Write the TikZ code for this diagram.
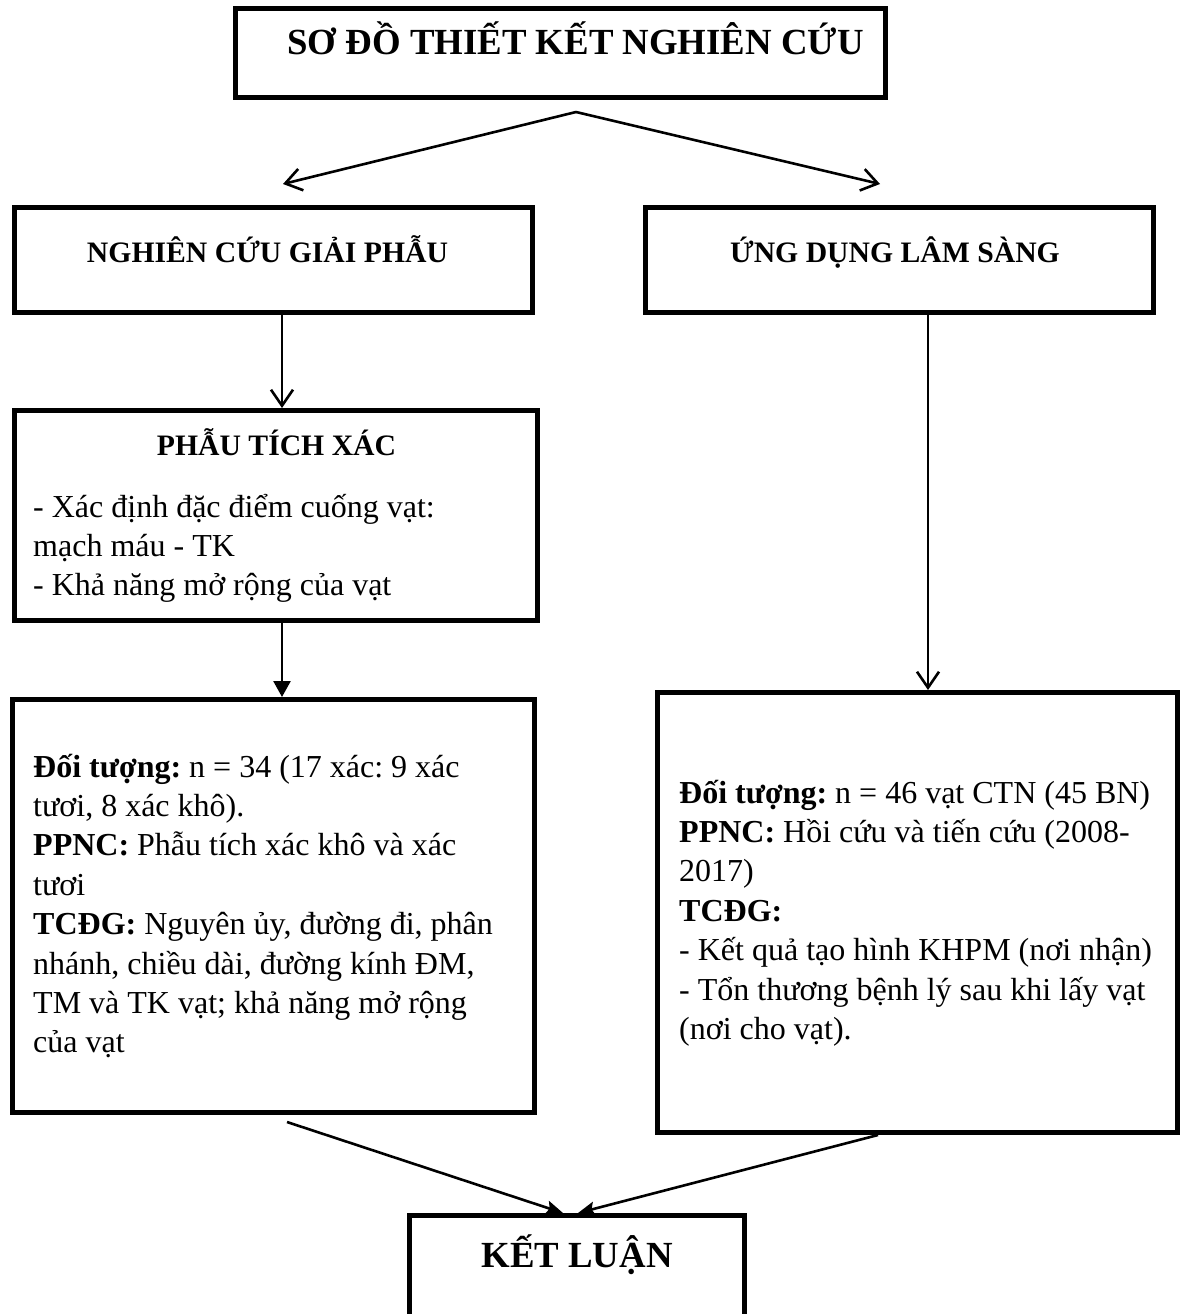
\documentclass[tikz,border=0pt]{standalone}
\usepackage{fontspec}
\setmainfont{Liberation Serif}
\frenchspacing
\usetikzlibrary{arrows.meta}
\tikzset{
  frame/.style={draw, line width=5pt, inner sep=0pt},
  conn/.style={line width=2.6pt},
  openarrow/.style={conn, -{Straight Barb[length=16pt,width=22pt]}},
  fillarrow/.style={conn, -{Triangle[length=16pt,width=17pt]}},
  joinarrow/.style={conn, -{Stealth[length=17pt,width=14pt,inset=3pt]}},
  bigtitle/.style={font=\fontsize{36.8}{44}\selectfont\bfseries, inner sep=0pt, anchor=base},
  header/.style={font=\fontsize{29.7}{36}\selectfont\bfseries, inner sep=0pt, anchor=base},
  body/.style={font=\fontsize{32}{39.4}\selectfont\frenchspacing, inner sep=0pt, anchor=base west},
}
\newenvironment{lines}{\begin{tabular}[t]{@{}l@{}}}{\end{tabular}}
\begin{document}
\begin{tikzpicture}[x=1pt,y=-1pt]
\useasboundingbox (0,0) rectangle (1197,1314);
\clip (0,0) rectangle (1197,1314);
% boxes
\node[frame, minimum width=650pt, minimum height=89pt] (title) at (560.5,53) {};
\node[frame, minimum width=518pt, minimum height=105pt] (anat) at (273.5,260) {};
\node[frame, minimum width=508pt, minimum height=105pt] (clin) at (899.5,260) {};
\node[frame, minimum width=523pt, minimum height=210pt] (disc) at (276,515.5) {};
\node[frame, minimum width=522pt, minimum height=413pt] (objL) at (273.5,906) {};
\node[frame, minimum width=520pt, minimum height=440pt] (objR) at (917.5,912.5) {};
\node[frame, minimum width=335pt, minimum height=144.5pt] (concl) at (577,1287.75) {};
% texts
\node[bigtitle] (titletext) at (575.5,55) {SƠ ĐỒ THIẾT KẾT NGHIÊN CỨU};
\node[header] (anattext) at (267.5,262) {NGHIÊN CỨU GIẢI PHẪU};
\node[header] (clintext) at (895,262) {ỨNG DỤNG LÂM SÀNG};
\node[header] (disctitle) at (276.5,455) {PHẪU TÍCH XÁC};
\node[body] (disctext) at (33,517) {\begin{lines}- Xác định đặc điểm cuống vạt:\\mạch máu - TK\\- Khả năng mở rộng của vạt\end{lines}};
\node[body] (objLtext) at (33,777) {\begin{lines}\textbf{Đối tượng:} n = 34 (17 xác: 9 xác\\tươi, 8 xác khô).\\\textbf{PPNC:} Phẫu tích xác khô và xác\\tươi\\\textbf{TCĐG:} Nguyên ủy, đường đi, phân\\nhánh, chiều dài, đường kính ĐM,\\TM và TK vạt; khả năng mở rộng\\của vạt\end{lines}};
\node[body] (objRtext) at (679,803) {\begin{lines}\textbf{Đối tượng:} n = 46 vạt CTN (45 BN)\\\textbf{PPNC:} Hồi cứu và tiến cứu (2008-\\2017)\\\textbf{TCĐG:}\\- Kết quả tạo hình KHPM (nơi nhận)\\- Tổn thương bệnh lý sau khi lấy vạt\\(nơi cho vạt).\end{lines}};
\node[bigtitle] (concltext) at (577,1267) {KẾT LUẬN};
% connector helper coordinates
\coordinate (split) at (576,112);
\coordinate (tipL) at (283,184);
\coordinate (tipR) at (880,184);
\coordinate (colL) at (282,0);
\coordinate (colR) at (928,0);
\coordinate (startL) at (287,1122);
\coordinate (startR) at (878,0);
\coordinate (endL) at (563,0);
\coordinate (endR) at (578,0);
% connectors
\draw[openarrow] (split) -- (tipL);
\draw[openarrow] (split) -- (tipR);
\draw[openarrow] (anat.south -| colL) -- (disc.north -| colL);
\draw[fillarrow] (disc.south -| colL) -- (objL.north -| colL);
\draw[openarrow] (clin.south -| colR) -- (objR.north -| colR);
\draw[joinarrow] (startL) -- (concl.north -| endL);
\draw[joinarrow] (objR.south -| startR) -- (concl.north -| endR);
\end{tikzpicture}
\end{document}
